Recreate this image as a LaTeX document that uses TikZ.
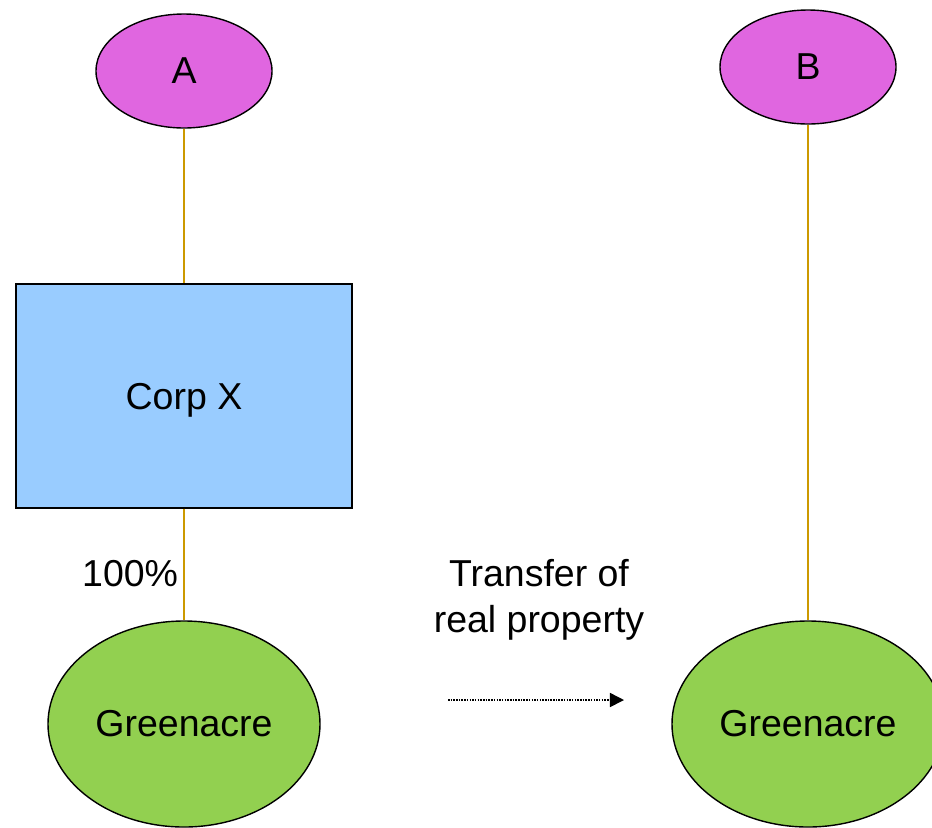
\documentclass[tikz,border=0pt]{standalone}
\usepackage{fontspec}
\setmainfont{Liberation Sans}
\usetikzlibrary{arrows.meta}
\usetikzlibrary{shapes.geometric}

\definecolor{owner}{HTML}{E066E0}
\definecolor{corp}{HTML}{99CCFF}
\definecolor{land}{HTML}{92D050}
\definecolor{link}{HTML}{CC9900}

\tikzset{
  every node/.style={font=\fontsize{32}{39}\selectfont, inner sep=0pt},
  holder/.style={ellipse, draw=black, line width=1.2pt, fill=owner, minimum width=5.28cm, minimum height=3.42cm},
  company/.style={rectangle, draw=black, line width=1.2pt, fill=corp, minimum width=10.08cm, minimum height=6.72cm, text depth=0pt},
  property/.style={ellipse, draw=black, line width=1.2pt, fill=land, minimum width=8.16cm, minimum height=6.18cm},
  owns/.style={draw=link, line width=2.1pt}
}

\begin{document}
\begin{tikzpicture}[x=0.03cm, y=-0.03cm]
                \useasboundingbox (0,0) rectangle (932,827);
                \node[holder] (A) at (184,71) {A};
                \node[holder] (B) at (808,67) {B};
                \node[company] (X) at (184,396) {Corp X};
                \node[property] (G1) at (184,724) {Greenacre};
                \node[property] (G2) at (808,724) {Greenacre};
                \draw[owns] (A) -- (X);
                \draw[owns] (X) -- node[pos=0.58, left=4pt] {100\%} (G1);
                \draw[owns] (B) -- (G2);
                \node[align=center] (T) at (539,600) {Transfer of\\real property};
                \coordinate (s) at (448,700);
                \coordinate (e) at (624,700);
                \draw[densely dotted, line width=1.3pt, -{Triangle[length=12pt, width=12pt]}] (s) -- (e);
            \end{tikzpicture}
\end{document}
